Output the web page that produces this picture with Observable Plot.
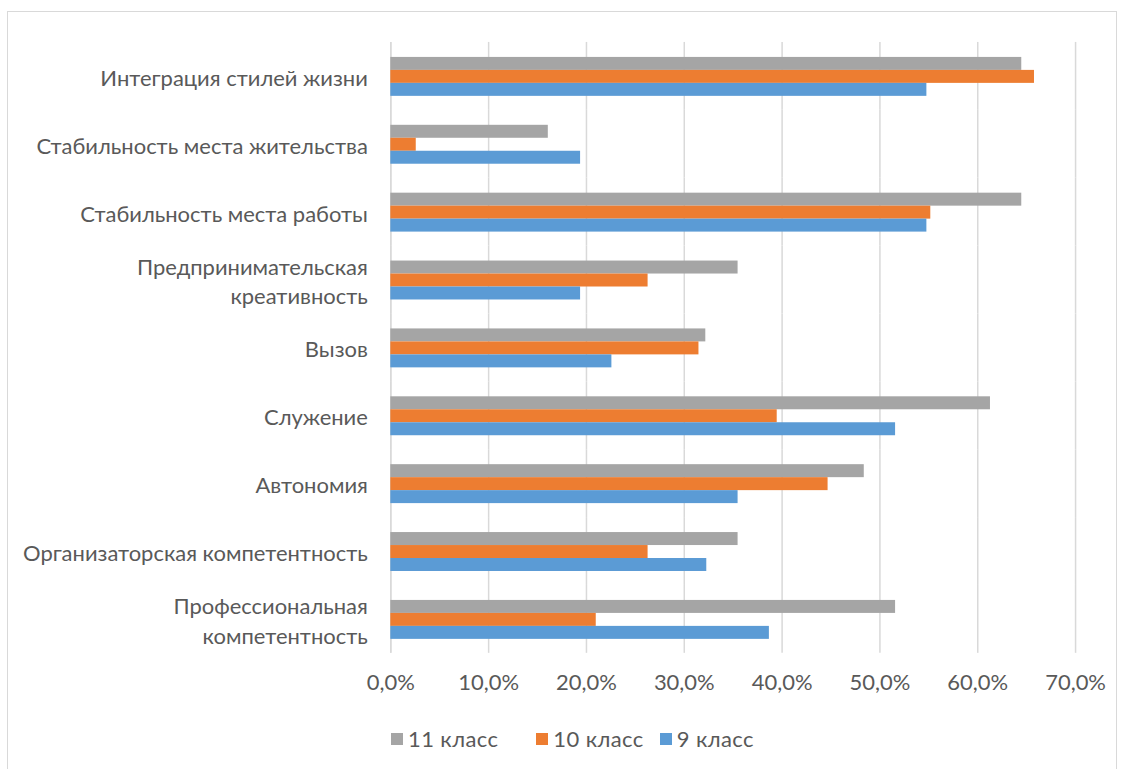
<!DOCTYPE html>
<html><head><meta charset="utf-8">
<script src="https://cdn.jsdelivr.net/npm/d3@7"></script>
<script src="https://cdn.jsdelivr.net/npm/@observablehq/plot@0.6"></script>
<style>
body{margin:0;background:#fff;font-family:Lato,"Open Sans",sans-serif;}
#frame{position:absolute;left:7px;top:11px;width:1110px;height:760px;border:1.5px solid #d9d9d9;box-sizing:border-box;background:#fff;}
#chart{position:absolute;left:0;top:0;}
#legend{position:absolute;left:0;top:713px;width:1110px;display:flex;justify-content:flex-start;padding-left:383px;box-sizing:border-box;font-size:22px;color:#595959;}
#legend .item{display:flex;align-items:center;letter-spacing:0.4px;}
#legend .item:nth-child(1){margin-right:38px;}
#legend .item:nth-child(2){margin-right:16px;}
#legend .sw{width:12px;height:12px;margin-right:5px;}
</style></head>
<body>
<div id="frame"><div id="chart"></div><div id="legend"></div></div>
<script>
const categories = [
  "Интеграция стилей жизни",
  "Стабильность места жительства",
  "Стабильность места работы",
  "Предпринимательская\nкреативность",
  "Вызов",
  "Служение",
  "Автономия",
  "Организаторская компетентность",
  "Профессиональная\nкомпетентность"
];
const seriesNames = ["11 класс", "10 класс", "9 класс"];
const seriesColors = ["#a5a5a5", "#ed7d31", "#5b9bd5"];
const grade11 = [0.645, 0.161, 0.645, 0.355, 0.322, 0.613, 0.484, 0.355, 0.516];
const grade10 = [0.658, 0.026, 0.552, 0.263, 0.315, 0.395, 0.447, 0.263, 0.210];
const grade9  = [0.548, 0.194, 0.548, 0.194, 0.226, 0.516, 0.355, 0.323, 0.387];
const xTicks = [0, 0.1, 0.2, 0.3, 0.4, 0.5, 0.6, 0.7];

const seriesValues = [grade11, grade10, grade9];
const data = [];
categories.forEach((c, i) => {
  seriesNames.forEach((s, j) => data.push({category: c, series: s, value: seriesValues[j][i]}));
});

const fmt = v => (v*100).toFixed(1).replace(".", ",") + "%";

const chart = Plot.plot({
  width: 1110,
  height: 700,
  marginLeft: 383,
  marginRight: 41,
  marginTop: 28,
  marginBottom: 57,
  style: {fontFamily: "Lato, 'Open Sans', sans-serif", color: "#595959", background: "transparent"},
  x: {domain: [0, 0.7], ticks: xTicks, label: null},
  fy: {domain: categories, padding: 0, label: null},
  y: {domain: seriesNames, paddingInner: 0, paddingOuter: 1.06, label: null},
  color: {domain: seriesNames, range: seriesColors},
  marks: [
    Plot.gridX(xTicks, {stroke: "#d9d9d9", strokeOpacity: 1, strokeWidth: 1.5}),
    Plot.ruleX([0], {stroke: "#d9d9d9", strokeWidth: 1.5}),
    Plot.barX(data, {fy: "category", y: "series", x: "value", fill: "series", inset: 0}),
    Plot.axisX(xTicks, {tickSize: 0, tickPadding: 21, tickFormat: fmt, fontSize: 22, fill: "#595959", label: null}),
    Plot.axisFy({anchor: "left", tickSize: 0, tickPadding: 23, fontSize: 22, fill: "#595959", lineHeight: 1.35, label: null}),
    Plot.axisY({ticks: [], label: null})
  ]
});
document.getElementById("chart").appendChild(chart);

const legend = document.getElementById("legend");
seriesNames.forEach((s, i) => {
  const it = document.createElement("div");
  it.className = "item";
  const sw = document.createElement("div");
  sw.className = "sw";
  sw.style.background = seriesColors[i];
  const t = document.createElement("span");
  t.textContent = s;
  it.appendChild(sw); it.appendChild(t);
  legend.appendChild(it);
});
</script>
</body></html>
